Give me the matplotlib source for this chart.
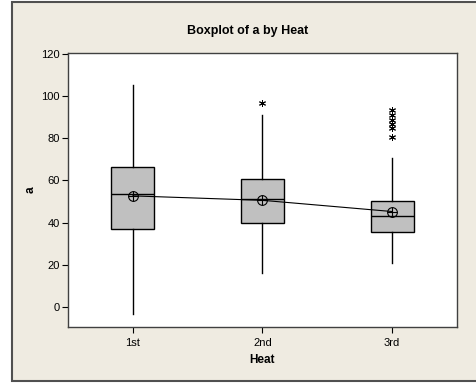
import matplotlib
matplotlib.use("Agg")
import matplotlib.pyplot as plt
from matplotlib.patches import Rectangle

# --- data ---
heats = ["1st", "2nd", "3rd"]
q1 = [36.9, 39.8, 35.5]
medians = [53.8, 51.0, 43.1]
q3 = [66.3, 60.7, 50.4]
whis_lo = [-3.2, 16.1, 20.8]
whis_hi = [105.2, 91.0, 70.5]
means = [52.7, 50.6, 45.3]
outliers = [[], [96.8], [93.4, 91.0, 88.8, 86.5, 84.8, 80.6]]
yticks = [0, 20, 40, 60, 80, 100, 120]

plt.rcParams['font.family'] = ['Liberation Sans Narrow', 'Liberation Sans', 'DejaVu Sans']

fig = plt.figure(figsize=(4.76, 3.83), dpi=100)
fig.patch.set_facecolor("white")
bg = "#EFEBE1"
fig.patches.append(Rectangle((12 / 476, 2 / 383), 1.0, 1 - 4 / 383,
                             transform=fig.transFigure, facecolor=bg,
                             edgecolor="#505050", linewidth=1.5, zorder=-5))

ax = fig.add_axes([68 / 476, 1 - 327 / 383, (457 - 68) / 476, (327 - 52.5) / 383])

stats = []
for i in range(len(heats)):
    stats.append({"q1": q1[i], "med": medians[i], "q3": q3[i],
                  "whislo": whis_lo[i], "whishi": whis_hi[i],
                  "mean": means[i], "fliers": outliers[i], "label": heats[i]})

pos = list(range(1, len(heats) + 1))
ax.bxp(stats, positions=pos, widths=0.333, patch_artist=True, showcaps=False,
       boxprops=dict(facecolor="#C0C0C0", edgecolor="black", linewidth=1.0),
       medianprops=dict(color="black", linewidth=1.0),
       whiskerprops=dict(color="black", linewidth=1.0),
       flierprops=dict(marker=(6, 2, 0), markersize=5, markeredgecolor="black",
                       markeredgewidth=0.7, linestyle="none"))

# mean connect line and circled-plus symbols
ax.plot(pos, means, color="black", linewidth=0.8, zorder=4)
ax.plot(pos, means, linestyle="none", marker="o", markersize=7,
        markerfacecolor="none", markeredgecolor="black", markeredgewidth=0.8, zorder=5)
ax.plot(pos, means, linestyle="none", marker="+", markersize=7,
        markeredgecolor="black", markeredgewidth=0.8, zorder=5)

ax.set_xlim(0.5, 3.5)
ax.set_ylim(-9.3, 120.5)
ax.set_yticks(yticks)
ax.set_xticks(pos)
ax.set_xticklabels(heats)
ax.tick_params(direction="out", length=4, width=0.8, labelsize=8, pad=2, colors="black")
ax.tick_params(axis="x", pad=4)
for s in ax.spines.values():
    s.set_color("#404040")
    s.set_linewidth(1.0)

ax.set_xlabel("Heat", fontsize=8.5, fontweight="bold", labelpad=4)
ax.set_ylabel("a", fontsize=8.5, fontweight="bold")
ax.yaxis.set_label_coords(-(68 - 37) / 389, 0.5)
fig.text(248 / 476, 1 - 31 / 383, "Boxplot of a by Heat", ha="center", va="center",
         fontsize=9, fontweight="bold")

fig.savefig("out.png", dpi=100, facecolor=fig.get_facecolor())
